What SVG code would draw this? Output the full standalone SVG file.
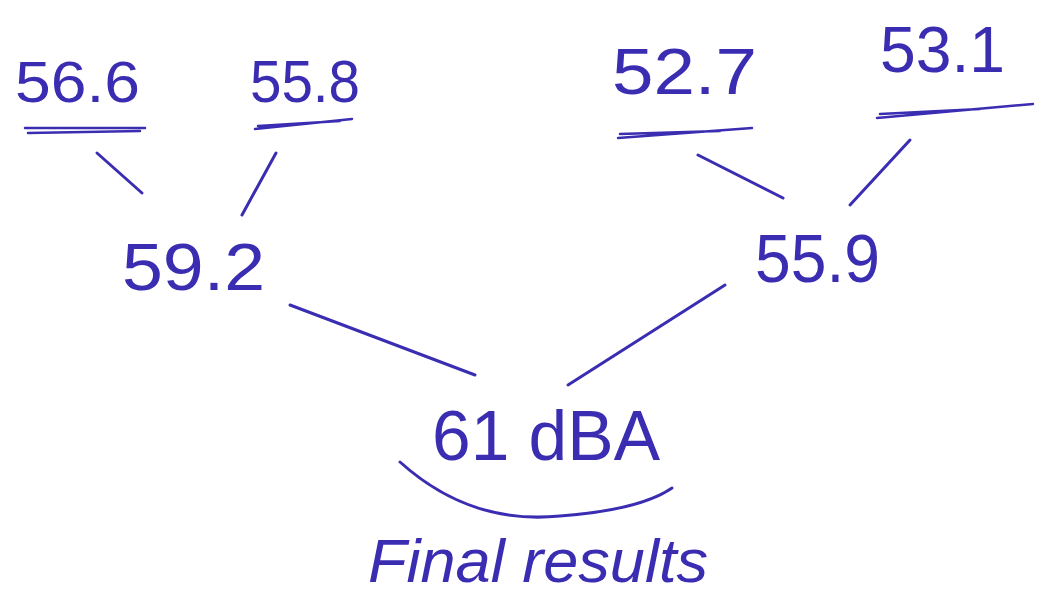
<svg xmlns="http://www.w3.org/2000/svg" width="1037" height="598" viewBox="0 0 1037 598">
<style>
.t{font-family:"Liberation Sans",Arial,sans-serif;fill:#3a2db2;}
.ln{stroke:#3a2db2;stroke-width:3;fill:none;stroke-linecap:round;}
.ul{stroke:#3a2db2;stroke-width:2.5;fill:none;stroke-linecap:round;}
</style>
<rect width="1037" height="598" fill="#ffffff"/>
<g id="n566">
<text class="t" x="15" y="102" font-size="58" textLength="125" lengthAdjust="spacingAndGlyphs">56.6</text>
<path class="ul" d="M25 128 L145 128 M28 133 L140 131"/>
</g>
<g id="n558">
<text class="t" x="250" y="102" font-size="60" textLength="110" lengthAdjust="spacingAndGlyphs">55.8</text>
<path class="ul" d="M255 129 L352 119 M258 126 L340 121"/>
</g>
<g id="n527">
<text class="t" x="612" y="94" font-size="64" textLength="145" lengthAdjust="spacingAndGlyphs">52.7</text>
<path class="ul" d="M618 138 L752 128 M620 134 L720 131"/>
</g>
<g id="n531">
<text class="t" x="880" y="72" font-size="64" textLength="125" lengthAdjust="spacingAndGlyphs">53.1</text>
<path class="ul" d="M877 118 L1033 104 M880 114 L980 109"/>
</g>
<g id="n592">
<text class="t" x="122" y="290" font-size="66" textLength="143" lengthAdjust="spacingAndGlyphs">59.2</text>
</g>
<g id="n559">
<text class="t" x="755" y="282" font-size="68" textLength="125" lengthAdjust="spacingAndGlyphs">55.9</text>
</g>
<g id="n61">
<text class="t" x="432" y="460" font-size="70" textLength="228" lengthAdjust="spacingAndGlyphs">61 dBA</text>
<path class="ln" d="M400 462 Q470 525 560 516 Q640 510 672 488"/>
</g>
<g id="final">
<text class="t" x="368" y="582" font-size="62" font-style="italic" textLength="340" lengthAdjust="spacingAndGlyphs">Final results</text>
</g>
<g id="connectors">
<path class="ln" d="M97 153 L142 193"/>
<path class="ln" d="M276 153 L242 215"/>
<path class="ln" d="M698 155 L783 198"/>
<path class="ln" d="M910 140 L850 205"/>
<path class="ln" d="M290 305 L475 375"/>
<path class="ln" d="M725 285 L568 385"/>
</g>
</svg>
